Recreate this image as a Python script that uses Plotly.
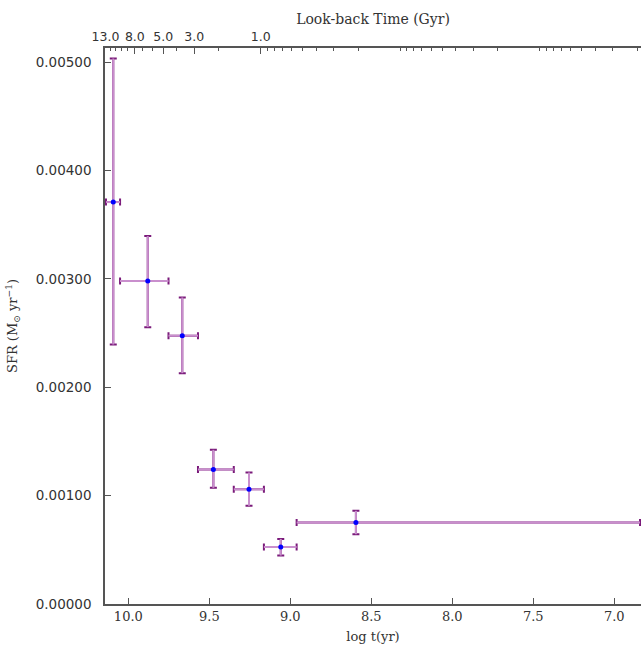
import plotly.graph_objects as go
import math

# ---- data ----
log_t       = [10.093, 9.880, 9.667, 9.475, 9.255, 9.059, 8.595]
log_t_upper = [10.138, 10.051, 9.752, 9.570, 9.349, 9.163, 8.961]
log_t_lower = [10.051, 9.752, 9.570, 9.349, 9.163, 8.961, 6.841]
sfr         = [0.003709, 0.002980, 0.002476, 0.001241, 0.001059, 0.000527, 0.000752]
sfr_upper   = [0.005033, 0.003395, 0.002829, 0.001423, 0.001213, 0.000601, 0.000860]
sfr_lower   = [0.002395, 0.002555, 0.002130, 0.001072, 0.000906, 0.000447, 0.000644]

bottom_ticks = [10.0, 9.5, 9.0, 8.5, 8.0, 7.5, 7.0]
y_ticks = [0.0, 0.001, 0.002, 0.003, 0.004, 0.005]
top_ticks = [13.0, 8.0, 5.0, 3.0, 1.0]
top_minor = [12, 11, 10, 9, 7, 6, 4, 2,
             0.9, 0.8, 0.7, 0.6, 0.5, 0.4, 0.3, 0.2, 0.1,
             0.09, 0.08, 0.07, 0.06, 0.05, 0.04, 0.03, 0.02, 0.01,
             0.009, 0.008, 0.007, 0.006, 0.005, 0.004, 0.003, 0.002]

ex_p = [u - x for u, x in zip(log_t_upper, log_t)]
ex_m = [x - l for l, x in zip(log_t_lower, log_t)]
ey_p = [u - y for u, y in zip(sfr_upper, sfr)]
ey_m = [y - l for l, y in zip(sfr_lower, sfr)]

CAP = "#7a1a7a"
STEM = "#c98fcd"
SERIF = "DejaVu Serif"
SANS = "DejaVu Sans"
AX = "#555555"
TXT = "#333333"

fig = go.Figure()
# dark caps layer
fig.add_trace(go.Scatter(
    x=log_t, y=sfr, mode="markers", marker=dict(size=1, color="rgba(0,0,0,0)"),
    error_x=dict(type="data", symmetric=False, array=ex_p, arrayminus=ex_m,
                 color=CAP, thickness=2, width=3.5),
    error_y=dict(type="data", symmetric=False, array=ey_p, arrayminus=ey_m,
                 color=CAP, thickness=2, width=3.5),
    hoverinfo="skip", showlegend=False))
# light stems + points
fig.add_trace(go.Scatter(
    x=log_t, y=sfr, mode="markers", marker=dict(size=5, color="#0000ff"),
    error_x=dict(type="data", symmetric=False, array=ex_p, arrayminus=ex_m,
                 color=STEM, thickness=2, width=0),
    error_y=dict(type="data", symmetric=False, array=ey_p, arrayminus=ey_m,
                 color=STEM, thickness=2, width=0),
    showlegend=False))
# helper for top axis
fig.add_trace(go.Scatter(x=[1.0], y=[0.0], xaxis="x2", mode="markers",
                         marker=dict(size=1, color="rgba(0,0,0,0)"),
                         hoverinfo="skip", showlegend=False))

fig.update_layout(
    width=641, height=647,
    margin=dict(l=105, r=0, t=48, b=43),
    paper_bgcolor="white", plot_bgcolor="white",
    xaxis=dict(range=[10.144, 6.835], tickvals=bottom_ticks,
               ticktext=[f"{v:.1f}" for v in bottom_ticks],
               showline=True, linecolor=AX, linewidth=1.5, mirror=False,
               ticks="inside", ticklen=6, tickcolor=AX, showgrid=False, zeroline=False,
               tickfont=dict(family=SERIF, size=13, color=TXT),
               title=dict(text="log t(yr)", font=dict(family=SERIF, size=13, color=TXT),
                          standoff=9)),
    xaxis2=dict(type="log", overlaying="x", side="top", anchor="y",
                range=[math.log10(13.0) + 0.003, -2.726],
                tickvals=top_ticks, ticktext=[f"{v:.1f}" for v in top_ticks],
                showline=True, linecolor=AX, linewidth=1.5,
                ticks="inside", ticklen=6, tickcolor=AX, showgrid=False, zeroline=False,
                tickfont=dict(family=SANS, size=12.5, color=TXT),
                minor=dict(tickvals=top_minor, ticks="inside", ticklen=3,
                           tickcolor=AX, showgrid=False),
                title=dict(text="Look-back Time (Gyr)",
                           font=dict(family=SERIF, size=14, color=TXT), standoff=1)),
    yaxis=dict(range=[0, 0.005131], tickvals=y_ticks,
               ticktext=[f"{v:.5f}" for v in y_ticks],
               showline=True, linecolor=AX, linewidth=1.5, mirror=False,
               ticks="inside", ticklen=6, tickcolor=AX, showgrid=False, zeroline=False,
               tickfont=dict(family=SANS, size=13.5, color=TXT),
               ticklabelstandoff=9,
               title=dict(text="SFR (M<sub>⊙</sub> yr<sup>−1</sup>)",
                          font=dict(family=SERIF, size=13, color=TXT), standoff=15)),
)

fig.write_html("out.html",
               config={"displayModeBar": False},
               post_script="document.body.style.margin='0';"
                           "document.body.style.overflow='hidden';"
                           "document.documentElement.style.overflow='hidden';")
